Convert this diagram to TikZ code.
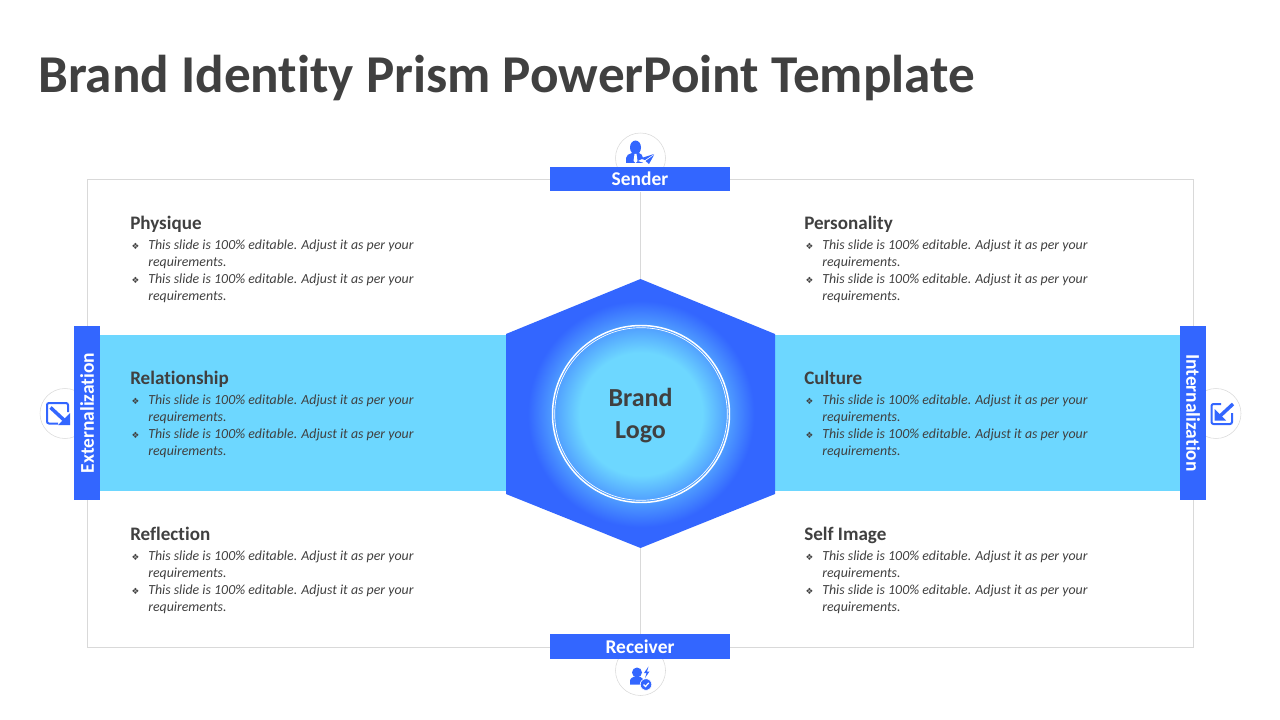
\documentclass[tikz,border=0pt]{standalone}
\usepackage{fontspec}
\setmainfont[Ligatures=NoCommon]{Carlito}
\newfontfamily\symbfont{DejaVu Sans}
\definecolor{prismblue}{HTML}{3366FF}
\definecolor{prismsky}{HTML}{6DD7FF}
\definecolor{prismgrey}{HTML}{D9D9D9}
\definecolor{prismtext}{HTML}{404040}
\pgfdeclareradialshading{prismglow}{\pgfpoint{0bp}{0bp}}{%
  color(0bp)=(prismsky);color(13bp)=(prismsky);color(24bp)=(prismblue);color(50bp)=(prismblue)}
\newcommand{\bulletmark}{\makebox[13.5pt][l]{\hspace*{1pt}\raisebox{0.4pt}{\symbfont\fontsize{6.5}{7}\selectfont ❖}}}
\newcommand{\slidetext}{%
  \bulletmark This slide is 100\% editable. Adjust it as per your\\
  \hspace*{13.5pt}requirements.\\
  \bulletmark This slide is 100\% editable. Adjust it as per your\\
  \hspace*{13.5pt}requirements.}
\tikzset{
  headtext/.style={anchor=base west,inner sep=0pt,text=prismtext,font=\fontsize{14.3}{16}\selectfont\bfseries},
  bodytext/.style={anchor=north west,inner sep=0pt,align=left,text=prismtext,font=\fontsize{10.4}{12.75}\selectfont\itshape},
  barlabel/.style={fill=prismblue,text=white,inner sep=0pt,font=\fontsize{14.6}{16}\selectfont\bfseries},
  iconring/.style={circle,draw=prismgrey,fill=white,minimum size=37.5pt,inner sep=0pt},
  rule/.style={draw=prismgrey,line width=0.6pt}
}
\begin{document}
\begin{tikzpicture}[x=0.75pt,y=-0.75pt]
\useasboundingbox (0,0) rectangle (1280,720);
\node[anchor=base west,inner sep=0pt,text=prismtext,font=\fontsize{39.9}{44}\selectfont\bfseries] (title) at (38,93) {Brand Identity Prism PowerPoint Template};
% frame and rings behind the bars
\draw[rule] (87.5,179.5) rectangle (1193.5,647.5);
\node[iconring] (senderring) at (640.5,158) {};
\node[iconring] (receiverring) at (640.5,670.5) {};
\node[iconring] (extring) at (65,413.5) {};
\node[iconring] (intring) at (1216,413.5) {};
% bands
\fill[prismsky] (100,335) rectangle (506,491);
\fill[prismsky] (775,335) rectangle (1180,491);
% bars
\node[barlabel,minimum width=135pt,minimum height=18.4pt] (sender) at (640,179) {Sender};
\node[barlabel,minimum width=135pt,minimum height=18.4pt] (receiver) at (640,646.5) {Receiver};
\node[barlabel,rotate=90,minimum width=130.5pt,minimum height=19.5pt] (external) at (87,413) {Externalization};
\node[barlabel,rotate=-90,minimum width=130.5pt,minimum height=19.5pt] (internal) at (1193,413) {Internalization};
% hexagon
\fill[prismblue] (640.5,279) coordinate (hextop) -- (775,334) -- (775,494) -- (640.5,548) coordinate (hexbottom) -- (506,494) -- (506,334) -- cycle;
\shade[shading=prismglow] (641,414) circle (118);
\draw[white,line width=1.1pt] (641,414) circle (88.5);
\draw[white,line width=0.5pt] (641,414) circle (86.3);
\node[align=center,inner sep=0pt,text=prismtext,font=\fontsize{19.5}{24}\selectfont\bfseries] (logo) at (640.5,416) {Brand\\Logo};
\draw[rule] (sender.south -| hextop) -- (hextop);
\draw[rule] (hexbottom) -- (receiver.north -| hexbottom);
% left column
\node[headtext] (physique) at (130,229.5) {Physique};
\node[bodytext] (physiquetext) at (130,240) {\slidetext};
\node[headtext] (relationship) at (130,384.5) {Relationship};
\node[bodytext] (relationshiptext) at (130,395) {\slidetext};
\node[headtext] (reflection) at (130,540.5) {Reflection};
\node[bodytext] (reflectiontext) at (130,551) {\slidetext};
% right column
\node[headtext] (personality) at (804,229.5) {Personality};
\node[bodytext] (personalitytext) at (804,240) {\slidetext};
\node[headtext] (culture) at (804,384.5) {Culture};
\node[bodytext] (culturetext) at (804,395) {\slidetext};
\node[headtext] (selfimage) at (804,540.5) {Self Image};
\node[bodytext] (selfimagetext) at (804,551) {\slidetext};
% sender icon
\fill[prismblue] (635.5,147.5) ellipse (5.5 and 7);
\fill[prismblue] (626,163) -- (626,158) .. controls (626,155) and (629,154) .. (632,153) -- (639,153) .. controls (641,154) and (643,155) .. (643,158) -- (643,163) -- cycle;
\fill[white] (634.5,154) -- (636.5,154) -- (637.5,161) -- (635.5,163) -- (633.5,161) -- cycle;
\fill[white] (638,161) -- (656,152) -- (650,165) -- cycle;
\fill[prismblue] (640,158.5) -- (654,154) -- (645,160) -- cycle;
\fill[prismblue] (645.5,161) -- (654,155) -- (649,164) -- cycle;
% receiver icon
\fill[prismblue] (637,672.5) circle (5);
\fill[prismblue] (630,684.5) -- (630,681) .. controls (630,678) and (633,676.5) .. (637,676.5) .. controls (640,676.5) and (642,677.5) .. (643,679) -- (641,684.5) -- cycle;
\fill[prismblue] (648.5,666.5) -- (644,673) -- (646.5,673) -- (645,678) -- (649.5,671.5) -- (647,671.5) -- cycle;
\fill[prismblue,draw=white,line width=0.5pt] (646,684.5) circle (5.8);
\draw[white,line width=0.9pt] (643.5,684.5) -- (645.5,686.5) -- (648.8,682.8);
% externalization icon
\draw[prismblue,line width=1.5pt,rounded corners=1.5pt] (68,412) -- (68,403) -- (47,403) -- (47,423.5) -- (58,423.5);
\draw[prismblue,line width=2.6pt] (50.5,407.5) -- (64,420);
\fill[prismblue] (70,425) -- (70,413) -- (58,425) -- cycle;
% internalization icon
\draw[prismblue,line width=1.5pt,rounded corners=1.5pt] (1221,404) -- (1211.5,404) -- (1211.5,424) -- (1232,424) -- (1232,413);
\draw[prismblue,line width=2.6pt] (1233,404) -- (1219,417);
\fill[prismblue] (1214.5,420.5) -- (1214.5,409) -- (1226,420.5) -- cycle;
\end{tikzpicture}
\end{document}
